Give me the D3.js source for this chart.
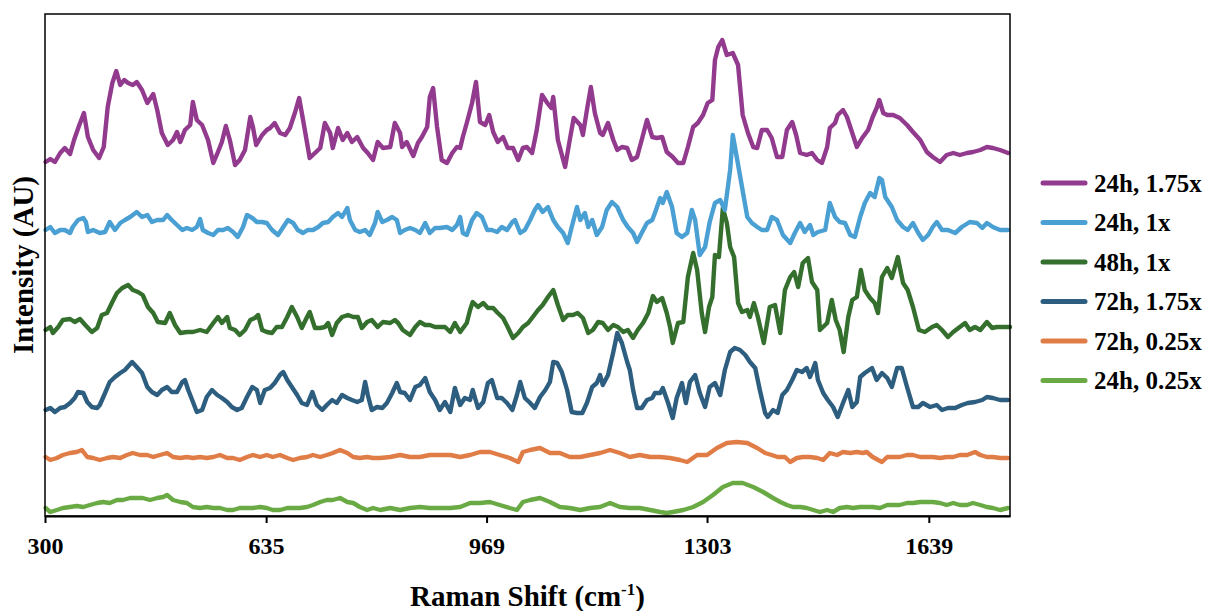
<!DOCTYPE html>
<html>
<head>
<meta charset="utf-8">
<script src="https://cdn.jsdelivr.net/npm/d3@7/dist/d3.min.js"></script>
<style>
  body { margin: 0; background: #fff; }
  svg text { font-family: "Liberation Serif", "Times New Roman", serif; font-weight: bold; fill: #000; }
</style>
</head>
<body>
<div id="chart"></div>
<script>
// Raman shift (cm-1) tick labels shown on the axis
const tickLabels = [300, 635, 969, 1303, 1639];
const shiftRange = [300, 1762];

// Series: [Raman shift, intensity (AU, stacked offsets)]
const s24h175 = [[301,354],[308,357],[315,354],[323,363],[330,368],[338,362],[344,376],[352,391],[359,403],[365,379],[373,366],[382,358],[389,369],[395,409],[402,433],[408,445],[414,431],[420,436],[426,433],[433,431],[439,434],[447,426],[455,413],[464,422],[470,406],[477,383],[486,371],[494,376],[500,384],[505,374],[512,386],[520,391],[524,414],[530,396],[538,391],[547,376],[555,353],[562,364],[568,374],[574,390],[580,376],[588,351],[595,356],[603,366],[611,399],[615,389],[620,371],[629,381],[636,386],[641,388],[648,393],[656,383],[664,381],[671,388],[679,404],[685,418],[691,396],[701,358],[709,363],[717,368],[724,393],[732,383],[736,368],[744,388],[751,376],[758,383],[765,374],[773,379],[782,368],[789,363],[797,356],[804,374],[812,368],[823,369],[830,393],[838,383],[841,369],[848,374],[858,360],[865,373],[871,379],[879,389],[883,419],[888,428],[894,389],[901,356],[909,353],[917,363],[924,369],[929,368],[933,379],[939,393],[947,413],[953,434],[959,394],[967,391],[973,401],[979,384],[986,374],[994,379],[1001,368],[1009,368],[1017,356],[1024,368],[1030,369],[1038,363],[1045,386],[1053,421],[1061,413],[1067,408],[1070,419],[1077,376],[1088,349],[1095,376],[1101,398],[1111,391],[1115,381],[1121,406],[1127,429],[1133,403],[1141,383],[1145,381],[1153,393],[1161,376],[1167,366],[1174,369],[1182,368],[1189,356],[1197,359],[1204,376],[1212,396],[1220,379],[1227,378],[1235,379],[1242,364],[1251,359],[1259,353],[1267,353],[1274,369],[1282,389],[1289,393],[1297,401],[1304,413],[1311,416],[1315,456],[1320,469],[1326,476],[1333,461],[1342,463],[1350,451],[1357,401],[1365,383],[1373,369],[1379,368],[1386,386],[1394,386],[1401,378],[1409,359],[1417,359],[1424,386],[1432,394],[1438,381],[1444,363],[1454,361],[1462,363],[1470,356],[1477,353],[1485,369],[1489,388],[1497,393],[1501,401],[1509,406],[1515,399],[1523,383],[1530,369],[1538,378],[1547,386],[1554,399],[1560,408],[1564,416],[1570,403],[1576,401],[1585,401],[1595,398],[1606,391],[1615,384],[1626,376],[1636,364],[1645,359],[1656,354],[1666,361],[1676,363],[1686,361],[1697,363],[1706,364],[1717,366],[1727,369],[1736,368],[1747,366],[1759,363]];

const s24h1 = [[301,286],[308,289],[315,283],[323,286],[330,286],[338,283],[342,289],[350,296],[358,298],[362,294],[365,284],[373,286],[383,283],[391,284],[398,294],[406,286],[414,293],[421,296],[429,299],[439,304],[447,299],[455,301],[462,294],[470,296],[479,296],[485,301],[492,296],[500,291],[508,286],[515,288],[523,286],[530,289],[535,297],[539,286],[547,283],[555,281],[562,286],[570,286],[577,288],[585,284],[592,279],[600,289],[606,301],[614,298],[621,294],[629,294],[636,293],[644,286],[653,281],[661,289],[668,296],[676,293],[683,286],[691,283],[698,286],[706,286],[714,289],[721,293],[729,294],[736,299],[744,303],[750,299],[758,308],[762,296],[770,286],[777,284],[785,286],[792,281],[800,293],[804,304],[811,294],[818,296],[826,299],[833,296],[838,283],[845,286],[853,288],[861,286],[868,283],[876,293],[883,283],[891,288],[898,288],[909,289],[917,286],[924,291],[929,299],[933,283],[939,281],[947,296],[954,303],[962,299],[970,286],[977,286],[985,284],[992,289],[1000,286],[1008,294],[1012,296],[1020,283],[1027,286],[1035,296],[1042,306],[1047,311],[1054,304],[1062,309],[1070,296],[1077,289],[1085,283],[1092,273],[1098,289],[1106,309],[1111,296],[1118,303],[1123,289],[1129,296],[1136,281],[1144,289],[1151,306],[1159,314],[1167,309],[1171,303],[1176,296],[1183,289],[1191,283],[1197,274],[1204,283],[1212,293],[1220,296],[1224,303],[1232,318],[1236,313],[1242,324],[1250,309],[1257,283],[1265,279],[1273,283],[1280,306],[1285,296],[1292,261],[1300,269],[1307,294],[1315,313],[1323,316],[1330,306],[1338,346],[1342,381],[1348,359],[1356,329],[1364,299],[1371,293],[1379,289],[1386,286],[1394,286],[1401,299],[1409,296],[1418,281],[1429,273],[1436,283],[1444,293],[1451,284],[1459,291],[1464,281],[1471,284],[1482,286],[1489,313],[1497,299],[1504,294],[1512,293],[1520,281],[1527,279],[1535,299],[1542,313],[1550,323],[1557,319],[1564,338],[1568,336],[1573,319],[1583,309],[1591,296],[1600,289],[1607,286],[1615,293],[1623,283],[1630,276],[1638,281],[1645,289],[1651,294],[1659,286],[1668,286],[1679,283],[1689,289],[1701,294],[1712,293],[1720,288],[1727,293],[1736,289],[1747,286],[1759,286]];

const s48h1 = [[301,186],[308,189],[312,183],[320,189],[327,196],[338,197],[345,194],[353,197],[361,191],[371,184],[379,188],[386,201],[394,203],[402,214],[409,223],[417,228],[426,231],[433,226],[441,224],[448,221],[456,209],[464,203],[471,194],[482,193],[489,203],[497,191],[505,183],[515,184],[524,184],[535,186],[545,184],[555,193],[562,199],[568,193],[576,199],[580,188],[588,186],[595,181],[603,186],[611,196],[618,198],[623,201],[629,186],[636,184],[644,183],[651,189],[659,189],[667,199],[674,209],[682,199],[689,188],[697,199],[701,204],[709,188],[717,188],[724,189],[729,193],[735,181],[742,193],[750,199],[759,201],[767,199],[774,199],[780,188],[788,194],[795,196],[804,189],[812,194],[823,193],[830,196],[835,193],[842,186],[853,181],[861,189],[868,194],[876,191],[883,191],[891,189],[898,189],[906,189],[914,184],[921,193],[929,184],[939,193],[944,206],[948,214],[956,209],[964,213],[971,208],[979,208],[986,203],[994,198],[1001,189],[1009,178],[1017,183],[1024,189],[1032,193],[1039,199],[1047,206],[1054,211],[1062,219],[1070,226],[1077,211],[1085,196],[1092,201],[1100,201],[1107,203],[1115,198],[1123,183],[1130,186],[1138,194],[1145,193],[1153,186],[1161,191],[1168,189],[1176,184],[1183,186],[1191,178],[1198,186],[1206,193],[1214,203],[1221,220],[1227,214],[1235,218],[1242,203],[1247,189],[1251,173],[1259,193],[1267,194],[1274,239],[1282,263],[1288,246],[1295,203],[1300,184],[1306,209],[1311,219],[1315,261],[1321,259],[1327,308],[1333,293],[1338,269],[1344,259],[1350,213],[1356,204],[1364,206],[1368,199],[1374,213],[1380,199],[1389,173],[1398,209],[1406,211],[1414,183],[1421,226],[1429,239],[1435,244],[1441,229],[1448,253],[1456,258],[1462,234],[1470,226],[1474,186],[1485,193],[1492,216],[1498,196],[1504,186],[1510,164],[1517,199],[1523,216],[1530,219],[1536,246],[1542,226],[1550,218],[1557,213],[1562,203],[1568,239],[1576,248],[1583,238],[1592,259],[1600,233],[1607,226],[1615,209],[1624,186],[1633,184],[1644,189],[1651,191],[1659,186],[1668,179],[1676,184],[1686,189],[1694,193],[1701,186],[1709,189],[1717,186],[1727,194],[1735,188],[1742,189],[1751,189],[1762,189]];

const s72h175 = [[301,106],[308,108],[315,104],[323,108],[330,109],[338,113],[345,118],[350,124],[358,123],[364,114],[371,109],[379,108],[383,111],[391,123],[398,134],[406,139],[414,143],[421,146],[432,154],[439,149],[447,143],[455,129],[462,124],[470,121],[477,126],[485,129],[492,124],[500,124],[508,134],[512,136],[517,126],[523,116],[530,104],[538,106],[545,119],[553,126],[561,121],[568,118],[576,114],[583,109],[591,106],[598,108],[606,119],[614,129],[621,126],[626,113],[633,126],[641,128],[648,133],[656,141],[661,144],[667,136],[674,129],[682,121],[689,113],[697,111],[705,124],[712,111],[720,106],[727,111],[735,116],[742,113],[750,121],[758,118],[765,116],[773,114],[780,116],[785,134],[789,121],[795,106],[803,109],[811,108],[818,113],[826,123],[833,133],[838,124],[845,123],[853,116],[861,129],[868,131],[876,138],[883,124],[891,116],[898,106],[906,114],[914,104],[921,128],[929,111],[936,118],[944,116],[948,126],[956,108],[964,114],[971,133],[977,136],[985,118],[992,118],[1000,113],[1008,106],[1015,121],[1020,134],[1027,118],[1035,113],[1042,108],[1050,119],[1058,126],[1065,134],[1070,154],[1076,153],[1083,144],[1091,126],[1098,104],[1106,103],[1114,103],[1121,113],[1129,129],[1136,133],[1141,141],[1145,131],[1153,141],[1161,164],[1167,183],[1174,173],[1182,154],[1186,146],[1191,126],[1197,108],[1204,108],[1212,116],[1220,118],[1224,123],[1232,123],[1236,128],[1244,113],[1251,98],[1257,118],[1265,133],[1271,113],[1277,134],[1285,141],[1292,123],[1300,109],[1307,129],[1315,133],[1323,121],[1330,146],[1338,164],[1345,168],[1353,166],[1361,161],[1368,154],[1376,148],[1383,126],[1391,103],[1395,99],[1403,106],[1410,103],[1417,121],[1424,126],[1432,136],[1439,146],[1447,144],[1454,148],[1459,139],[1467,153],[1471,136],[1479,123],[1486,116],[1494,109],[1501,99],[1509,113],[1517,126],[1523,109],[1530,114],[1535,139],[1542,143],[1553,148],[1560,136],[1568,143],[1576,138],[1583,129],[1591,148],[1598,148],[1606,129],[1615,109],[1623,109],[1630,113],[1641,109],[1651,111],[1659,106],[1668,108],[1679,108],[1689,111],[1698,113],[1709,114],[1720,116],[1727,119],[1736,118],[1747,116],[1759,116]];

const s72h025 = [[301,59],[308,56],[318,58],[327,61],[338,63],[348,64],[356,66],[364,59],[373,58],[383,56],[394,58],[403,59],[414,58],[424,61],[433,63],[444,61],[455,61],[464,59],[474,61],[485,63],[494,59],[505,58],[515,59],[524,58],[535,59],[545,58],[555,59],[565,61],[576,58],[585,58],[595,56],[606,59],[615,61],[626,59],[636,61],[645,59],[656,61],[667,58],[676,56],[686,58],[697,59],[706,61],[717,59],[727,61],[736,63],[747,66],[758,63],[767,59],[777,58],[788,59],[797,58],[808,58],[823,59],[838,61],[853,59],[868,59],[883,61],[898,61],[914,61],[929,59],[944,61],[959,64],[974,64],[989,61],[1004,58],[1017,54],[1024,64],[1035,66],[1050,68],[1065,63],[1080,63],[1095,59],[1111,59],[1126,61],[1141,63],[1156,66],[1171,63],[1186,59],[1201,61],[1217,59],[1232,59],[1247,58],[1262,56],[1273,54],[1288,61],[1303,61],[1318,68],[1333,73],[1348,74],[1364,73],[1379,68],[1391,63],[1401,61],[1410,59],[1421,59],[1429,54],[1439,58],[1448,59],[1459,59],[1470,58],[1479,56],[1489,63],[1500,61],[1509,64],[1520,63],[1530,64],[1539,63],[1545,64],[1554,59],[1568,54],[1576,59],[1585,59],[1595,59],[1606,61],[1615,61],[1626,59],[1636,59],[1645,59],[1656,58],[1666,59],[1676,59],[1686,61],[1697,61],[1709,64],[1717,61],[1727,59],[1736,59],[1747,58],[1759,58]];

const s24h025 = [[301,8],[308,4],[318,6],[327,8],[338,9],[348,10],[358,9],[368,11],[379,13],[388,14],[398,13],[409,16],[418,16],[429,18],[439,18],[448,18],[459,16],[470,18],[479,19],[485,21],[494,16],[505,14],[515,13],[524,9],[535,8],[545,9],[555,8],[565,8],[576,6],[585,6],[595,8],[606,8],[615,8],[626,9],[636,8],[645,6],[656,6],[667,8],[676,8],[686,8],[697,9],[706,11],[717,14],[727,16],[736,16],[747,18],[758,14],[767,13],[777,9],[788,6],[797,8],[808,6],[823,8],[838,6],[853,8],[868,9],[883,8],[898,8],[914,8],[929,9],[944,13],[959,13],[974,14],[989,11],[1004,8],[1015,6],[1024,14],[1035,16],[1050,18],[1065,14],[1080,9],[1095,8],[1111,6],[1126,8],[1141,9],[1156,13],[1171,9],[1186,8],[1201,8],[1217,6],[1232,4],[1242,3],[1251,4],[1267,6],[1282,9],[1297,14],[1312,21],[1327,29],[1342,33],[1357,33],[1373,29],[1388,24],[1403,18],[1414,14],[1424,11],[1433,9],[1444,9],[1454,8],[1464,6],[1474,4],[1485,6],[1494,4],[1504,8],[1515,9],[1524,8],[1535,9],[1545,9],[1554,9],[1565,8],[1576,11],[1585,11],[1595,11],[1606,13],[1615,13],[1626,14],[1636,14],[1645,14],[1656,13],[1666,11],[1676,13],[1686,11],[1697,11],[1706,13],[1717,11],[1727,9],[1736,8],[1747,6],[1759,8]];

const seriesNames = ["24h, 1.75x", "24h, 1x", "48h, 1x", "72h, 1.75x", "72h, 0.25x", "24h, 0.25x"];
const seriesValues = [s24h175, s24h1, s48h1, s72h175, s72h025, s24h025];
const seriesColors = ["#923a8d", "#4a9fd3", "#356f2e", "#2e5e7f", "#e07c46", "#6aaa45"];

// Layout
const W = 1208, H = 611;
const margin = { top: 14, right: 198, bottom: 95, left: 45 };
const width = W - margin.left - margin.right;
const height = H - margin.top - margin.bottom;

const svg = d3.select("#chart")
    .append("svg")
    .attr("width", W)
    .attr("height", H);

const g = svg.append("g")
    .attr("transform", `translate(${margin.left},${margin.top})`);

const x = d3.scaleLinear().domain(shiftRange).range([0, width]);
const y = d3.scaleLinear().domain([0, 502]).range([height, 0]);

const line = d3.line()
    .x(d => x(d[0]))
    .y(d => y(d[1]));

// Spectra (bottom traces first so upper traces sit on top)
g.append("g")
    .selectAll("path")
    .data(seriesValues.map((v, i) => ({ v, i })).reverse())
    .enter()
    .append("path")
    .attr("d", d => line(d.v))
    .attr("fill", "none")
    .attr("stroke", d => seriesColors[d.i])
    .attr("stroke-width", 4.4)
    .attr("stroke-linejoin", "round")
    .attr("stroke-linecap", "round");

// Plot frame
g.append("rect")
    .attr("width", width)
    .attr("height", height)
    .attr("fill", "none")
    .attr("stroke", "#000")
    .attr("stroke-width", 1.5);

// X axis
const xAxis = g.append("g")
    .attr("transform", `translate(0,${height})`)
    .call(d3.axisBottom(x)
        .tickValues(tickLabels)
        .tickFormat(d3.format("d"))
        .tickSize(7)
        .tickSizeOuter(0)
        .tickPadding(14));

xAxis.select(".domain").attr("stroke", "#000").attr("stroke-width", 2);
xAxis.selectAll(".tick line").attr("stroke", "#000").attr("stroke-width", 2);
xAxis.selectAll(".tick text")
    .style("font-family", '"Liberation Serif", "Times New Roman", serif')
    .style("font-weight", "bold")
    .style("font-size", "24px")
    .attr("fill", "#000");

// Axis titles
const xTitle = svg.append("text")
    .attr("x", margin.left + width / 2)
    .attr("y", 606)
    .attr("text-anchor", "middle")
    .style("font-size", "29px");
xTitle.append("tspan").text("Raman Shift (cm");
xTitle.append("tspan").text("-1").attr("dy", -11).style("font-size", "17px");
xTitle.append("tspan").text(")").attr("dy", 11);

svg.append("text")
    .attr("transform", `translate(33,${margin.top + height / 2}) rotate(-90)`)
    .attr("text-anchor", "middle")
    .style("font-size", "29px")
    .text("Intensity (AU)");

// Legend
const legend = svg.append("g")
    .attr("transform", "translate(1043,183)");

const item = legend.selectAll("g")
    .data(seriesNames)
    .enter()
    .append("g")
    .attr("transform", (d, i) => `translate(0,${i * 39.5})`);

item.append("line")
    .attr("x1", 0)
    .attr("x2", 42)
    .attr("stroke", (d, i) => seriesColors[i])
    .attr("stroke-width", 5)
    .attr("stroke-linecap", "round");

item.append("text")
    .attr("x", 51)
    .attr("dy", "0.35em")
    .style("font-size", "25px")
    .text(d => d);
</script>
</body>
</html>
